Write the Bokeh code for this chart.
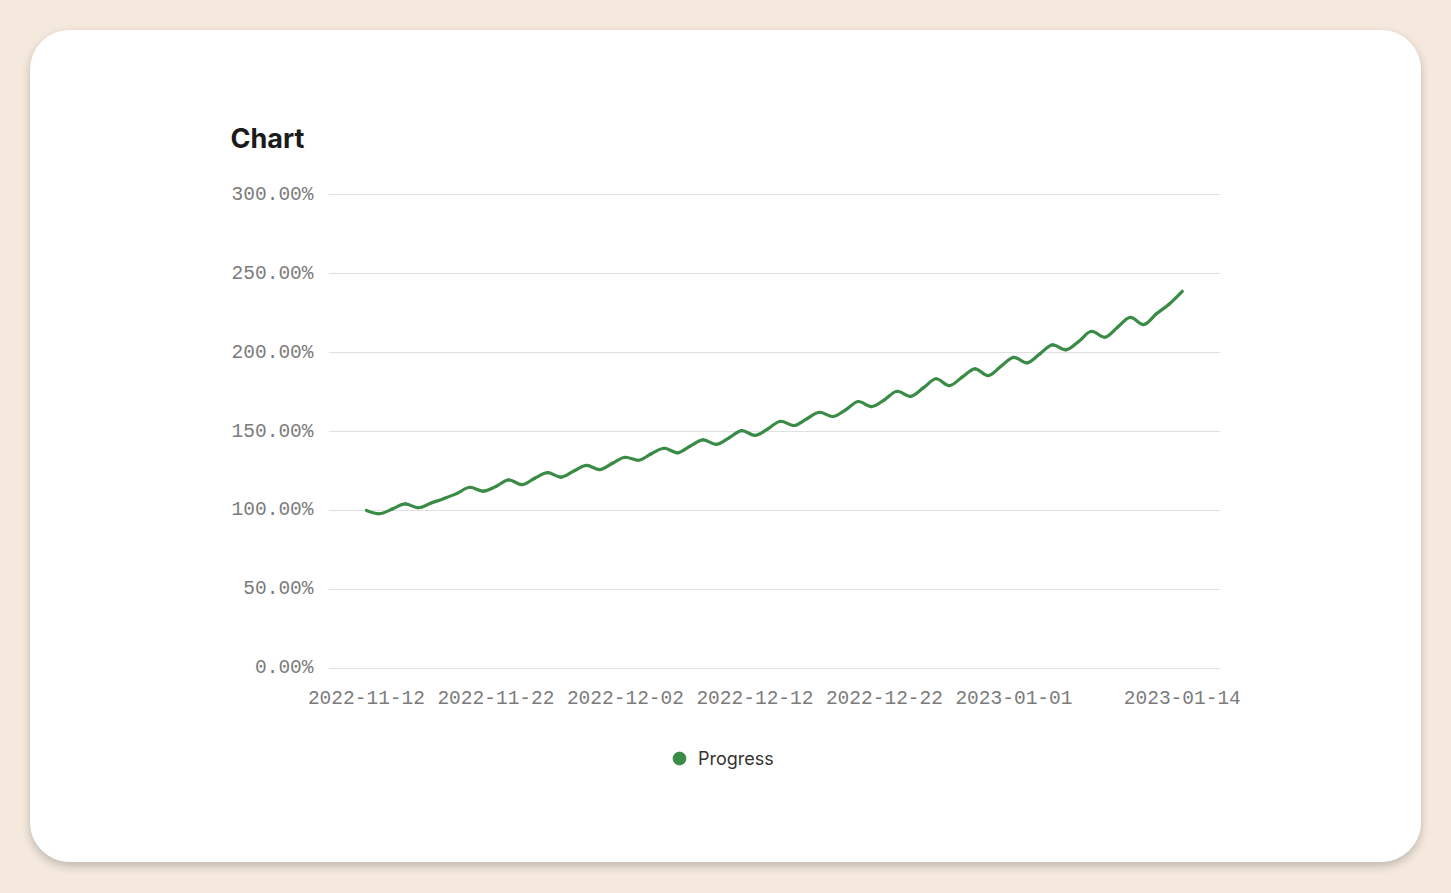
import numpy as np
import pandas as pd
from bokeh.plotting import figure
from bokeh.models import (Range1d, FixedTicker, DatetimeTickFormatter, Legend,
                          LegendItem, ColumnDataSource, PrintfTickFormatter)
from bokeh.layouts import column
from bokeh.embed import file_html
from bokeh.resources import INLINE

# ---------------- data ----------------
start_date = "2022-11-12"
series_name = "Progress"
progress = [
    100.0, 97.9, 100.9, 104.1, 101.7, 104.7, 107.6, 110.8, 114.7, 112.2,
    115.2, 119.4, 116.3, 120.4, 123.9, 121.1, 124.9, 128.5, 125.9, 129.9,
    133.7, 131.8, 135.9, 139.4, 136.5, 140.7, 144.7, 141.8, 146.0, 150.6,
    147.5, 151.7, 156.5, 153.8, 158.0, 162.2, 159.5, 163.7, 169.0, 165.8,
    170.1, 175.5, 172.3, 177.6, 183.4, 179.1, 184.4, 189.7, 185.4, 191.3,
    197.0, 193.5, 199.2, 204.9, 201.7, 207.0, 213.5, 209.7, 216.0, 222.3,
    217.7, 224.5, 230.8, 238.8,
]
x_tick_dates = ["2022-11-12", "2022-11-22", "2022-12-02", "2022-12-12",
                "2022-12-22", "2023-01-01", "2023-01-14"]
y_ticks = [0, 50, 100, 150, 200, 250, 300]
title_text = "Chart"

# ---------------- styling ----------------
GREEN = "#3a8b46"
AXIS_FONT = "Liberation Mono"
TEXT_FONT = "Inter"
TICK_COLOR = "#7b7b7b"
GRID_COLOR = "#e0e0e0"

dates = pd.date_range(start_date, periods=len(progress), freq="D")
xs = (dates.astype("int64") // 10**6).to_numpy().astype(float)
ys = np.array(progress, dtype=float)

DAY = 86400000.0
x_start = xs[0] - 2.93 * DAY
x_end = xs[0] + 65.95 * DAY

# monotone (monotoneX-style) cubic curve through the data points
h = np.diff(xs)
s = np.diff(ys) / h
t = np.zeros(len(xs))
for i in range(1, len(xs) - 1):
    h0, h1 = h[i - 1], h[i]
    s0, s1 = s[i - 1], s[i]
    pp = (s0 * h1 + s1 * h0) / (h0 + h1)
    t[i] = (np.sign(s0) + np.sign(s1)) * min(abs(s0), abs(s1), 0.5 * abs(pp))
t[0] = (3 * s[0] - t[1]) / 2
t[-1] = (3 * s[-1] - t[-2]) / 2

seg = ColumnDataSource(dict(
    x0=xs[:-1], y0=ys[:-1], x1=xs[1:], y1=ys[1:],
    cx0=xs[:-1] + h / 3, cy0=ys[:-1] + t[:-1] * h / 3,
    cx1=xs[1:] - h / 3, cy1=ys[1:] - t[1:] * h / 3,
))

CARD_W, MAIN_H, LEG_H = 1391, 690, 142

p = figure(width=CARD_W, height=MAIN_H, x_axis_type="datetime",
           output_backend="svg", toolbar_location=None,
           x_range=Range1d(x_start, x_end), y_range=Range1d(-2, 302),
           min_border_left=298, min_border_right=201,
           min_border_top=161, min_border_bottom=49)
p.background_fill_color = "white"
p.border_fill_color = "white"
p.outline_line_color = None

p.title.text = title_text
p.title.text_font = TEXT_FONT
p.title.text_font_size = "27px"
p.title.text_font_style = "bold"
p.title.text_color = "#1b1b1b"
p.title.align = "left"
p.title.offset = -98
p.title.standoff = 73

p.bezier(x0="x0", y0="y0", x1="x1", y1="y1", cx0="cx0", cy0="cy0",
         cx1="cx1", cy1="cy1", source=seg, line_color=GREEN, line_width=3.2,
         line_cap="round")

tick_ms = [float(pd.Timestamp(d).value // 10**6) for d in x_tick_dates]
p.xaxis.ticker = FixedTicker(ticks=tick_ms)
fmt = "%Y-%m-%d"
p.xaxis.formatter = DatetimeTickFormatter(days=fmt, months=fmt, years=fmt,
                                          hours=fmt, minutes=fmt)
p.yaxis.ticker = FixedTicker(ticks=y_ticks)
p.yaxis.formatter = PrintfTickFormatter(format="%.2f%%")

for ax in (p.xaxis, p.yaxis):
    ax.axis_line_color = None
    ax.major_tick_line_color = None
    ax.minor_tick_line_color = None
    ax.major_tick_out = 0
    ax.major_tick_in = 0
    ax.major_label_text_font = AXIS_FONT
    ax.major_label_text_font_size = "19.5px"
    ax.major_label_text_color = TICK_COLOR
p.yaxis.major_label_standoff = 15
p.xaxis.major_label_standoff = 19

p.xgrid.grid_line_color = None
p.ygrid.grid_line_color = GRID_COLOR
p.ygrid.grid_line_width = 1

# ---------------- legend strip (own small figure) ----------------
pl = figure(width=CARD_W, height=LEG_H, output_backend="svg",
            toolbar_location=None, x_range=Range1d(0, 1), y_range=Range1d(0, 1),
            min_border=0, min_border_left=0, min_border_right=0,
            min_border_top=0, min_border_bottom=0)
pl.axis.visible = False
pl.grid.visible = False
pl.outline_line_color = None
pl.background_fill_color = "white"
pl.border_fill_color = "white"
# a marker outside the visible range, used only as the legend's glyph
dot = pl.scatter(x=[5], y=[5], size=13, marker="circle",
                 fill_color=GREEN, line_color=GREEN)
legend = Legend(items=[LegendItem(label=series_name, renderers=[dot])],
                location=(335, 88), orientation="horizontal",
                glyph_width=32, glyph_height=32, label_standoff=3,
                padding=0, margin=0, border_line_color=None,
                background_fill_alpha=0,
                label_text_font=TEXT_FONT, label_text_font_size="18px",
                label_text_color="#333333")
pl.add_layout(legend)

card = column(p, pl, spacing=0,
              styles={"border-radius": "40px", "overflow": "hidden",
                      "background-color": "white",
                      "box-shadow": "0 4px 10px rgba(0,0,0,0.22)"})
card.margin = (30, 30, 31, 30)

root = column(card, styles={"background-color": "#f5e9de"})

open("out.html", "w").write(file_html(root, INLINE))
